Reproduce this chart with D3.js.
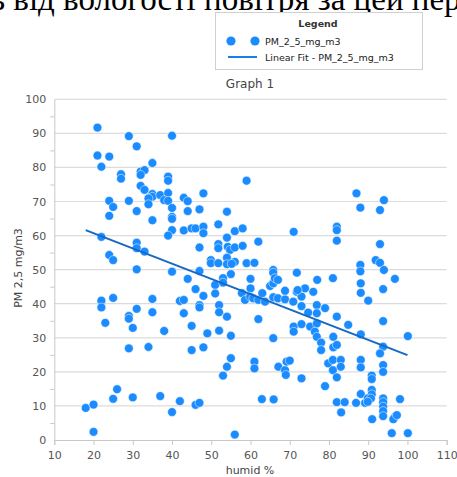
<!DOCTYPE html>
<html>
<head>
<meta charset="utf-8">
<script src="https://cdn.jsdelivr.net/npm/d3@7"></script>
<style>
  body { margin: 0; background: #fff; }
  svg { display: block; }
</style>
</head>
<body>
<script>
// humidity (%) and PM 2.5 readings
const humid = [
  21, 29, 40, 31, 21, 24, 22, 35, 27, 27, 32, 33, 32, 39, 39, 32, 33, 35, 35, 37, 39, 38, 39, 34, 24, 25, 29, 31, 24, 34,
  40, 40, 40, 35, 43, 44, 40, 39, 43, 22, 24, 25, 31, 31, 33, 31, 40,
  44, 47, 48, 54, 51.8, 45, 46, 48, 48, 56, 58, 54, 59, 71, 47, 51.8, 51.8, 54.2, 54.8, 56, 58, 62, 49.9, 49.9, 51.8, 54, 54,
  56, 55.2, 59, 61, 65.8, 65.8, 71.8, 47, 55,
  87, 94, 88, 93, 82, 82, 82, 93, 91.9, 93, 94, 88, 88,
  44, 22, 25, 22, 35, 42, 43, 31, 29, 29, 35, 43, 23, 30, 38, 45, 29, 34, 45, 26, 25, 30, 37, 18, 20, 42, 40, 20,
  46, 48, 47, 47, 49, 48, 51, 51, 53, 53, 52, 52, 54, 52, 55, 55, 54, 53, 46, 47, 56, 60, 60, 57.8, 58.6, 59.9, 60.7, 62, 63,
  63.7, 65, 65.8, 66.2, 67, 65.8, 67, 68.8, 68.8, 71.8, 70.9, 62, 65.8, 71, 71, 61, 61, 67.1, 68.8, 69.2, 70, 69, 62.9, 65.9,
  77, 81, 88.1, 88.1, 93.8, 96.8, 90, 73, 73.9, 72, 76, 73, 74.7, 76.9, 76.9, 79, 82, 73, 75.2, 76.9, 76.4, 84.9, 93.8, 88.1,
  76.9, 78, 78, 81.1, 81.1, 82, 100.1, 93.8, 93, 79.8, 81, 83, 83, 81, 82, 88.1, 88.1, 93.8, 93.8, 73, 79, 90.9, 90.9, 90.9,
  90.9, 88.1, 82, 84, 86.9, 89.2, 89.9, 90.7, 89.9, 93.8, 93.8, 93.8, 93.8, 93.8, 98.1, 83.1, 91, 96.8, 96.4, 97.3, 96, 100.1
];
const pm25 = [
  91.7, 89.2, 89.3, 86.2, 83.5, 83.2, 80.2, 81.3, 78, 76.7, 78.8, 79.2, 77.8, 77.3, 76.1, 74.6, 73.4, 72.2, 71.4, 71.9, 72.5, 70.4, 70.2, 70.9, 70.2, 68.4, 70.2, 67.2, 65.8, 69.2,
  68.1, 65.5, 64.9, 64.5, 71.1, 70.1, 61.6, 60, 61.5, 59.6, 54.3, 52.8, 57.9, 56.3, 55.3, 50.1, 49.4,
  67.2, 67.7, 72.4, 67, 63.3, 62.1, 62.1, 62.6, 60.7, 61.3, 62.1, 59.4, 76.1, 61.1, 56.5, 57.5, 56.3, 56.7, 55.8, 56.5, 57, 58.2, 52.8, 51.9, 51.9, 53.5, 51.6,
  52.3, 51.7, 51.9, 52, 49.9, 49.1, 49.1, 49.6, 48.7,
  72.4, 70.4, 68.2, 67.5, 62.6, 61.6, 58.5, 57.5, 52.8, 52, 49.9, 51.4, 49.5,
  47.3, 40.9, 41.7, 38.9, 41.4, 40.8, 41.1, 38.5, 36.4, 35.6, 37.5, 37.2, 34.4, 32.9, 32, 33.5, 26.9, 27.3, 26.4, 14.9, 12.1, 12.5, 12.9, 9.4, 10.4, 11.4, 8.2, 2.4,
  44.3, 42.3, 39.6, 38.9, 31.3, 27.2, 45.5, 43, 47.5, 46.2, 39.6, 37.5, 36.2, 32.1, 30.6, 24, 21.5, 18.9, 10.3, 10.9, 1.6, 47.3, 44.5, 43.1, 41.1, 42.1, 41.6, 41.1, 43.1,
  40.6, 45.2, 46, 47.5, 47, 41.9, 41.6, 41.3, 43.8, 43.5, 40.6, 35.5, 29.9, 33.3, 31.8, 23, 21, 21.5, 20.5, 23, 23.3, 19.1, 12, 11.9,
  47, 47.5, 46, 43.2, 44.3, 47.3, 40.9, 42.1, 44.5, 44, 43.5, 39.3, 37.4, 39.6, 37.2, 38.7, 36.2, 34, 33.3, 34.2, 31.8, 33.8, 34.9, 31,
  30.3, 28.6, 26.4, 30.3, 27.2, 27.9, 30.5, 27.4, 25.4, 22.5, 23.5, 23.5, 21.5, 20.5, 18.4, 23.5, 21.3, 22, 20, 18.1, 15.8, 18.9, 17.9, 14.7,
  13.4, 13.5, 11.1, 11.1, 10.9, 10.9, 12.2, 12.2, 11.2, 12.2, 11.1, 9.8, 8.5, 7, 12, 8.1, 6.1, 6.8, 6.1, 7.3, 2, 2
];
// linear fit (start and end)
const fitX = [18, 100];
const fitY = [61.6, 24.9];

const xTicks = [10, 20, 30, 40, 50, 60, 70, 80, 90, 100, 110];
const yTicks = [0, 10, 20, 30, 40, 50, 60, 70, 80, 90, 100];

const W = 457, H = 477;
const plotL = 54.3, plotR = 446.7, plotT = 99.3, plotB = 440;

const svg = d3.select('body').append('svg')
  .attr('width', W)
  .attr('height', H);

// cut-off caption line from the surrounding document
svg.append('text')
  .attr('x', -10)
  .attr('y', 9.5)
  .attr('font-family', 'Liberation Serif, Times New Roman, serif')
  .attr('font-size', 33)
  .attr('fill', '#000')
  .text('ь від вологості повітря за цей період');

const x = d3.scaleLinear().domain([10, 110]).range([plotL, plotR]);
const y = d3.scaleLinear().domain([0, 100]).range([plotB, plotT]);

// grid
svg.append('g')
  .selectAll('line')
  .data(yTicks.slice(1))
  .join('line')
  .attr('x1', plotL).attr('x2', plotR)
  .attr('y1', d => y(d)).attr('y2', d => y(d))
  .attr('stroke', '#dcdcdc')
  .attr('stroke-width', 1.2);

// axes
const xAxis = svg.append('g')
  .attr('transform', `translate(0,${plotB})`)
  .call(d3.axisBottom(x).tickValues(xTicks).tickSize(5).tickPadding(6).tickFormat(d3.format('d')));
const yAxis = svg.append('g')
  .attr('transform', `translate(${plotL},0)`)
  .call(d3.axisLeft(y).tickValues(yTicks).tickSize(0).tickPadding(8).tickFormat(d3.format('d')));
svg.append('g')
  .attr('transform', `translate(${plotL},0)`)
  .call(d3.axisLeft(y).tickValues(d3.range(5, 100, 10)).tickSize(4).tickFormat(''))
  .call(g => g.select('.domain').remove());

[xAxis, yAxis].forEach(g => {
  g.select('.domain').attr('stroke', '#c8c8c8');
  g.selectAll('.tick text')
    .attr('font-family', 'DejaVu Sans, sans-serif')
    .attr('font-size', 11)
    .attr('fill', '#555');
});
svg.selectAll('.tick line').attr('stroke', '#c8c8c8');

// points
svg.append('g')
  .selectAll('circle')
  .data(humid.map((h, i) => [h, pm25[i]]))
  .join('circle')
  .attr('cx', d => x(d[0]))
  .attr('cy', d => y(d[1]))
  .attr('r', 4.4)
  .attr('fill', '#1a8cff')
  .attr('stroke', '#fff')
  .attr('stroke-width', 0.5);

// fit line
svg.append('line')
  .attr('x1', x(fitX[0])).attr('y1', y(fitY[0]))
  .attr('x2', x(fitX[1])).attr('y2', y(fitY[1]))
  .attr('stroke', '#1668c4')
  .attr('stroke-width', 2);

// titles
svg.append('text')
  .attr('x', 250).attr('y', 88)
  .attr('text-anchor', 'middle')
  .attr('font-family', 'DejaVu Sans, sans-serif')
  .attr('font-size', 12)
  .attr('fill', '#444')
  .text('Graph 1');

svg.append('text')
  .attr('x', 250).attr('y', 474)
  .attr('text-anchor', 'middle')
  .attr('font-family', 'DejaVu Sans, sans-serif')
  .attr('font-size', 11)
  .attr('fill', '#444')
  .text('humid %');

svg.append('text')
  .attr('transform', 'translate(22,268) rotate(-90)')
  .attr('text-anchor', 'middle')
  .attr('font-family', 'DejaVu Sans, sans-serif')
  .attr('font-size', 11)
  .attr('fill', '#444')
  .text('PM 2,5 mg/m3');

// legend
const lg = svg.append('g');
lg.append('rect')
  .attr('x', 215.5).attr('y', 12.5)
  .attr('width', 207).attr('height', 57)
  .attr('fill', '#fff')
  .attr('stroke', '#d0d0d0');
lg.append('text')
  .attr('x', 318).attr('y', 27)
  .attr('text-anchor', 'middle')
  .attr('font-family', 'DejaVu Sans, sans-serif')
  .attr('font-size', 9.5)
  .attr('font-weight', 'bold')
  .attr('fill', '#333')
  .text('Legend');
lg.selectAll('circle')
  .data([231, 255])
  .join('circle')
  .attr('cx', d => d).attr('cy', 41)
  .attr('r', 4.6)
  .attr('fill', '#1a8cff');
lg.append('line')
  .attr('x1', 228).attr('x2', 257)
  .attr('y1', 57).attr('y2', 57)
  .attr('stroke', '#1a7ee6')
  .attr('stroke-width', 2);
lg.selectAll('text.item')
  .data(['PM_2_5_mg_m3', 'Linear Fit - PM_2_5_mg_m3'])
  .join('text')
  .attr('class', 'item')
  .attr('x', 265)
  .attr('y', (d, i) => 44.5 + i * 16)
  .attr('font-family', 'DejaVu Sans, sans-serif')
  .attr('font-size', 9.5)
  .attr('fill', '#222')
  .text(d => d);
</script>
</body>
</html>
